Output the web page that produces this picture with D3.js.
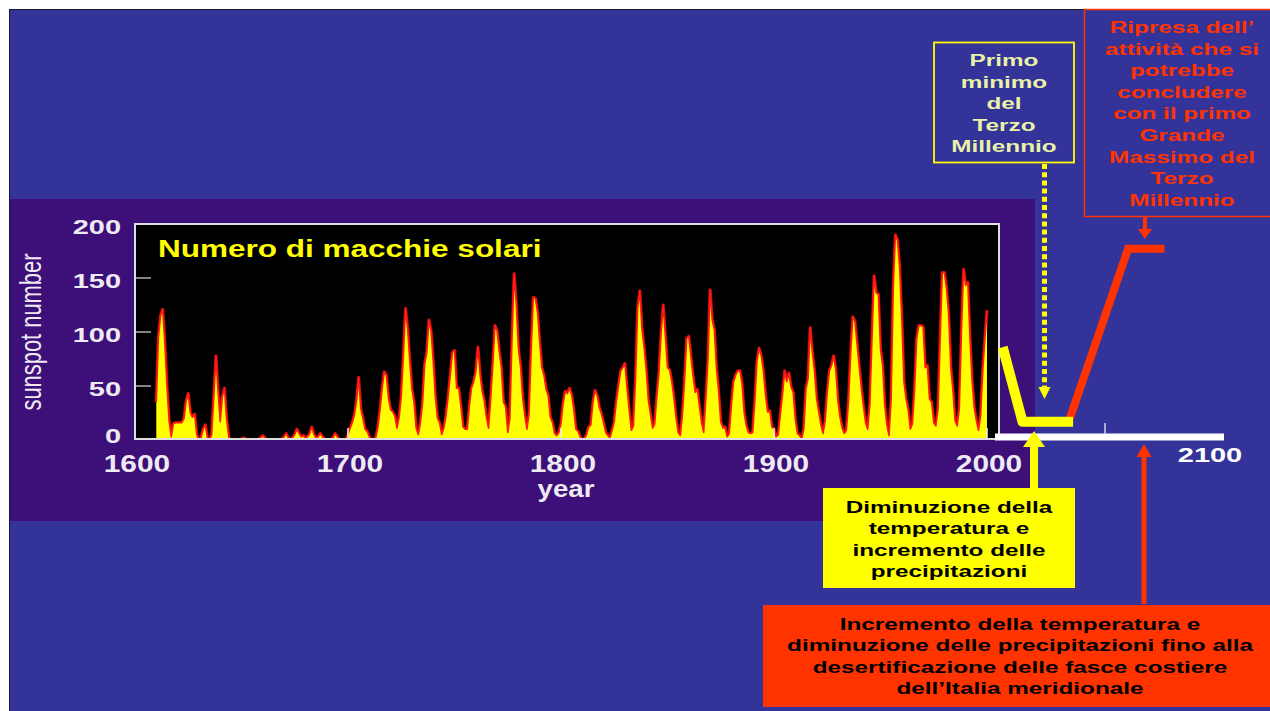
<!DOCTYPE html>
<html>
<head>
<meta charset="utf-8">
<script src="https://cdn.jsdelivr.net/npm/d3@7"></script>
<style>
  html, body { margin: 0; padding: 0; background: #ffffff; }
  svg { display: block; }
</style>
</head>
<body>
<svg id="chart" width="1270" height="711"></svg>
<script>
// ---- data -------------------------------------------------------------
// Yearly sunspot numbers, first year 1610, last year 2000
const firstYear = 1610;
const sunspotNumbers = [
  35, 95, 115, 121, 90, 50, 18, 3, 15, 16,            // 1610
  16, 16, 16, 20, 36, 43, 25, 21, 24, 5,              // 1620
  0, 2, 10, 14, 2, 0, 5, 40, 78, 45,                  // 1630
  17, 40, 48, 20, 3, 0, 0, 0, 0, 0,                   // 1640
  1, 2, 1, 0, 0, 0, 0, 0, 1, 2,                       // 1650
  4, 2, 0, 0, 0, 0, 0, 0, 0, 1,                       // 1660
  3, 6, 2, 0, 2, 5, 10, 6, 3, 4,                      // 1670
  2, 3, 6, 12, 5, 2, 3, 6, 3, 1,                      // 1680
  0, 0, 0, 2, 6, 3, 0, 0, 0, 0,                       // 1690
  5, 11, 16, 23, 36, 58, 29, 20, 10, 8,               // 1700
  3, 0, 0, 2, 11, 27, 47, 63, 60, 39,                 // 1710
  28, 26, 22, 11, 21, 40, 78, 122, 103, 73,           // 1720
  47, 35, 11, 5, 16, 34, 70, 81, 111, 101,            // 1730
  73, 40, 20, 16, 5, 11, 22, 40, 60, 81,              // 1740
  83, 48, 48, 31, 12, 10, 10, 32, 48, 54,             // 1750
  63, 86, 61, 45, 36, 21, 11, 38, 70, 106,            // 1760
  101, 82, 67, 35, 31, 7, 20, 93, 154, 126,           // 1770
  85, 68, 39, 23, 10, 24, 83, 132, 131, 118,          // 1780
  90, 67, 60, 47, 41, 21, 16, 6, 4, 7,                // 1790
  15, 34, 45, 43, 48, 42, 28, 10, 8, 3,               // 1800
  0, 1, 5, 12, 14, 35, 46, 41, 30, 24,                // 1810
  16, 7, 4, 2, 9, 17, 36, 50, 64, 67,                 // 1820
  71, 48, 28, 9, 13, 57, 122, 138, 103, 86,           // 1830
  65, 37, 24, 11, 15, 40, 62, 99, 125, 96,            // 1840
  67, 65, 54, 39, 21, 7, 4, 23, 55, 94,               // 1850
  96, 77, 59, 44, 47, 31, 16, 7, 38, 74,              // 1860
  139, 111, 102, 66, 45, 17, 11, 12, 3, 6,            // 1870
  32, 54, 60, 64, 64, 52, 25, 13, 7, 6,               // 1880
  7, 36, 73, 85, 78, 64, 42, 26, 27, 12,              // 1890
  10, 3, 5, 24, 42, 64, 54, 62, 49, 44,               // 1900
  19, 6, 4, 1, 10, 47, 57, 104, 81, 64,               // 1910
  38, 26, 14, 6, 17, 44, 64, 69, 78, 65,              // 1920
  36, 21, 11, 6, 9, 36, 80, 114, 110, 89,             // 1930
  68, 48, 31, 16, 10, 33, 93, 152, 136, 135,          // 1940
  84, 69, 32, 14, 4, 38, 142, 190, 185, 159,          // 1950
  112, 54, 38, 28, 10, 15, 47, 94, 106, 106,          // 1960
  105, 67, 69, 38, 35, 16, 13, 28, 93, 155,           // 1970
  155, 140, 116, 67, 46, 18, 13, 29, 100, 158,        // 1980
  143, 146, 94, 55, 30, 18, 9, 22, 64, 93,            // 1990
  120                                                 // 2000
];

const yTicks = [0, 50, 100, 150, 200];
const xTicks = [1600, 1700, 1800, 1900, 2000];
const futureTicks = [2050];
const futureLabel = 2100;

// Sketched outlook after 2000: [year, sunspot number]
const coolingPath  = [[2003.5, 86], [2012.5, 17], [2035.5, 17]];
const recoveryPath = [[2034, 20], [2060.5, 177], [2077, 177]];
const minimumYear = 2022.5;

// Captions
const chartTitle = "Numero di macchie solari";
const yTitle = "sunspot number";
const xTitle = "year";
const noteMinimum = ["Primo", "minimo", "del", "Terzo", "Millennio"];
const noteMaximum = ["Ripresa dell\u2019", "attivit\u00e0 che si", "potrebbe", "concludere",
                     "con il primo", "Grande", "Massimo del", "Terzo", "Millennio"];
const noteCooling = ["Diminuzione della", "temperatura e", "incremento delle", "precipitazioni"];
const noteWarming = ["Incremento della temperatura e",
                     "diminuzione delle precipitazioni fino alla",
                     "desertificazione delle fasce costiere",
                     "dell\u2019Italia meridionale"];

// ---- drawing ----------------------------------------------------------
const svg = d3.select("#chart");
const FONT = "'Liberation Sans', Arial, Helvetica, sans-serif";

const series = sunspotNumbers.map((v, i) => ({ year: firstYear + i, value: v }));

// slide background
svg.append("rect").attr("x", 9.5).attr("y", 9.5).attr("width", 1270).attr("height", 711)
  .attr("fill", "#333399").attr("stroke", "#1a1a2a").attr("stroke-width", 1);

// panel behind the chart
svg.append("rect").attr("x", 10).attr("y", 199).attr("width", 1025).attr("height", 322)
  .attr("fill", "#3d0f78");

const plot = { left: 135, right: 999, top: 224, bottom: 439 };
const x = d3.scaleLinear().domain([1600, 2000]).range([135, 987]);
const y = d3.scaleLinear().domain([0, 200]).range([440, 224]);
const xFuture = d3.scaleLinear().domain([2000, 2100]).range([995, 1215]);

// horizontally stretched text helper
function stretchedText(g, str, px, py, opts) {
  return g.append("text")
    .attr("transform", `translate(${px},${py}) scale(${opts.sx || 1},1)`)
    .attr("text-anchor", opts.anchor || "middle")
    .attr("font-family", FONT)
    .attr("font-weight", opts.weight || "bold")
    .attr("font-size", opts.size)
    .attr("fill", opts.fill)
    .text(str);
}

function block(lines, cx, firstBaseline, lineH, opts) {
  const g = svg.append("g");
  lines.forEach((s, i) => stretchedText(g, s, cx, firstBaseline + i * lineH, opts));
  return g;
}

// plot area
svg.append("rect").attr("x", plot.left).attr("y", plot.top)
  .attr("width", plot.right - plot.left).attr("height", plot.bottom - plot.top)
  .attr("fill", "#000000");

svg.append("clipPath").attr("id", "plotClip").append("rect")
  .attr("x", plot.left).attr("y", plot.top)
  .attr("width", plot.right - plot.left).attr("height", plot.bottom - plot.top);

const gData = svg.append("g").attr("clip-path", "url(#plotClip)");
gData.append("path").datum(series)
  .attr("d", d3.line().x(d => x(d.year)).y(d => y(d.value)))
  .attr("fill", "none").attr("stroke", "#c80a0a").attr("stroke-width", 3.2)
  .attr("stroke-linejoin", "round");
gData.append("path").datum(series)
  .attr("d", d3.area().x(d => x(d.year)).y0(y(0)).y1(d => y(d.value)))
  .attr("fill", "#ffff00");
gData.append("path").datum(series)
  .attr("d", d3.line().x(d => x(d.year)).y(d => y(d.value)))
  .attr("fill", "none").attr("stroke", "#ff1a12").attr("stroke-width", 1.6)
  .attr("stroke-linejoin", "round");

// inner ticks
svg.append("g").selectAll("line").data(yTicks.filter(v => v > 0 && v < 200)).join("line")
  .attr("x1", plot.left).attr("x2", plot.left + 16)
  .attr("y1", d => y(d)).attr("y2", d => y(d))
  .attr("stroke", "#b0b0b0").attr("stroke-width", 1.5);
svg.append("g").selectAll("line").data(xTicks.filter(v => v > 1600)).join("line")
  .attr("x1", d => x(d)).attr("x2", d => x(d))
  .attr("y1", plot.bottom - 11).attr("y2", plot.bottom)
  .attr("stroke", "#f0f0f0").attr("stroke-width", 1.5);

// plot frame
svg.append("rect").attr("x", plot.left).attr("y", plot.top)
  .attr("width", plot.right - plot.left).attr("height", plot.bottom - plot.top)
  .attr("fill", "none").attr("stroke", "#dedede").attr("stroke-width", 2);

// axis labels
const axisColor = "#eeeaf3";
const gAxis = svg.append("g");
yTicks.forEach(v => {
  const c = Math.min(y(v) + 2, y(0) - 5);
  stretchedText(gAxis, String(v), 121, c + 7.5, { size: 21, sx: 1.38, fill: axisColor, anchor: "end" });
});
xTicks.forEach(v => {
  stretchedText(gAxis, String(v), x(v) + 2, 472, { size: 23, sx: 1.3, fill: axisColor });
});
stretchedText(gAxis, xTitle, 566, 497, { size: 23, sx: 1.2, fill: axisColor });
gAxis.append("text")
  .attr("transform", "translate(41,332) rotate(-90)")
  .attr("text-anchor", "middle")
  .attr("font-family", "'Liberation Sans Narrow', " + FONT)
  .attr("font-size", 30)
  .attr("textLength", 157).attr("lengthAdjust", "spacingAndGlyphs")
  .attr("fill", axisColor)
  .text(yTitle);

// chart title
stretchedText(svg, chartTitle, 158, 257, { size: 23, sx: 1.37, fill: "#ffff00", anchor: "start" });

// future time axis
svg.append("rect").attr("x", 995).attr("y", 433.5).attr("width", 229).attr("height", 7)
  .attr("fill", "#ffffff");
svg.append("g").selectAll("line").data(futureTicks).join("line")
  .attr("x1", d => xFuture(d)).attr("x2", d => xFuture(d))
  .attr("y1", 423).attr("y2", 433.5)
  .attr("stroke", "#ffffff").attr("stroke-width", 1.2);
stretchedText(svg, String(futureLabel), xFuture(futureLabel) - 5, 462, { size: 21, sx: 1.38, fill: "#ffffff" });

// outlook lines
const outlook = d3.line().x(d => xFuture(d[0])).y(d => y(d[1]));
svg.append("path").attr("d", outlook(recoveryPath))
  .attr("fill", "none").attr("stroke", "#ff3300").attr("stroke-width", 8)
  .attr("stroke-linejoin", "miter");
svg.append("path").attr("d", outlook(coolingPath))
  .attr("fill", "none").attr("stroke", "#ffff00").attr("stroke-width", 10)
  .attr("stroke-linejoin", "round");

// dotted pointer from the "minimum" caption
const mx = xFuture(minimumYear);
svg.append("line").attr("x1", mx).attr("x2", mx).attr("y1", 164).attr("y2", 388)
  .attr("stroke", "#ffff00").attr("stroke-width", 5).attr("stroke-dasharray", "5,3.2");
svg.append("path").attr("d", `M${mx - 6},387 L${mx + 6},387 L${mx},399 Z`).attr("fill", "#ffff00");

// caption boxes
svg.append("rect").attr("x", 934).attr("y", 42.5).attr("width", 140).attr("height", 120)
  .attr("fill", "none").attr("stroke", "#ffff00").attr("stroke-width", 1.8);
block(noteMinimum, 1004, 66, 21.6, { size: 17, sx: 1.43, fill: "#e9f2a6" });

svg.append("rect").attr("x", 1084.5).attr("y", 9.5).attr("width", 200).attr("height", 207)
  .attr("fill", "none").attr("stroke", "#ff3300").attr("stroke-width", 1.5);
block(noteMaximum, 1182, 33, 21.6, { size: 17, sx: 1.43, fill: "#ff3300" });

// arrow from the "maximum" caption to the recovery line
svg.append("line").attr("x1", 1145).attr("x2", 1145).attr("y1", 217).attr("y2", 230)
  .attr("stroke", "#ff3300").attr("stroke-width", 4);
svg.append("path").attr("d", "M1138,229 L1152,229 L1145,239 Z").attr("fill", "#ff3300");

// lower captions with upward arrows
svg.append("line").attr("x1", 1034).attr("x2", 1034).attr("y1", 489).attr("y2", 445)
  .attr("stroke", "#ffff00").attr("stroke-width", 8);
svg.append("path").attr("d", "M1023,447 L1045,447 L1034,431 Z").attr("fill", "#ffff00");

svg.append("line").attr("x1", 1144).attr("x2", 1144).attr("y1", 604).attr("y2", 455)
  .attr("stroke", "#ff3300").attr("stroke-width", 5);
svg.append("path").attr("d", "M1136.5,457 L1151.5,457 L1144,444 Z").attr("fill", "#ff3300");

svg.append("rect").attr("x", 823).attr("y", 488).attr("width", 252).attr("height", 100)
  .attr("fill", "#ffff00");
block(noteCooling, 949, 512.5, 21.6, { size: 17, sx: 1.43, fill: "#000000" });

svg.append("rect").attr("x", 763).attr("y", 605).attr("width", 510).attr("height", 102)
  .attr("fill", "#ff3300");
block(noteWarming, 1020, 629.5, 21.6, { size: 17, sx: 1.43, fill: "#000000" });
</script>
</body>
</html>
